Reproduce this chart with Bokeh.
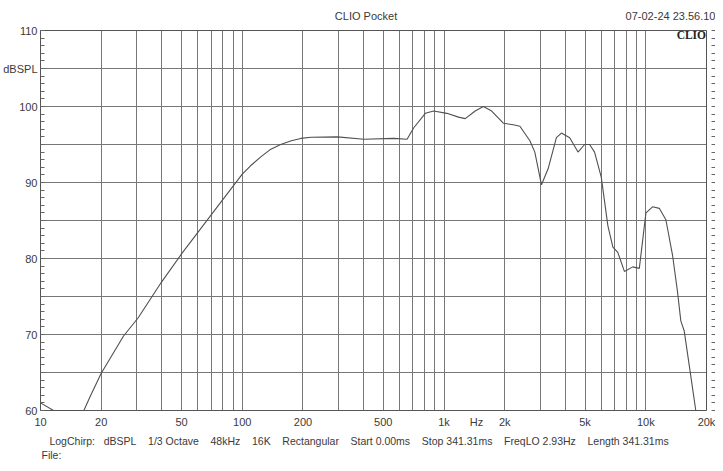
import math
from bokeh.plotting import figure
from bokeh.models import FixedTicker, LinearAxis, LogAxis, Label
from bokeh.embed import file_html
from bokeh.resources import INLINE

# ---- data ----
freq_hz = [10, 11.6, 16.4, 17.6, 20, 25.8, 30.5, 39.8, 50, 70, 100, 110, 124, 137, 155, 175, 195, 220,
           296, 401, 564, 656, 708, 808, 889, 1033, 1180, 1274, 1427, 1568, 1723, 1968, 2204, 2378,
           2665, 2819, 3041, 3281, 3606, 3818, 4198, 4613, 4977, 5270, 5575, 6017, 6491,
           6871, 7267, 7838, 8618, 9290, 10020, 10810, 11670, 12580, 13580, 14370, 14920,
           15500, 16410, 17700, 20000]
spl_db = [61.0, 60.0, 60.0, 61.8, 64.9, 69.8, 72.2, 76.9, 80.6, 85.7, 91.1, 92.2, 93.4, 94.3, 95.0, 95.5, 95.8, 95.95,
          96.0, 95.7, 95.8, 95.7, 97.2, 99.1, 99.4, 99.1, 98.6, 98.4, 99.4, 100.0, 99.4, 97.8, 97.6, 97.4,
          95.5, 94.0, 89.7, 91.8, 95.9, 96.5, 95.9, 94.0, 95.0, 95.0, 94.0, 90.7, 84.3,
          81.5, 80.8, 78.3, 78.9, 78.7, 86.0, 86.8, 86.6, 85.1, 80.4, 75.6, 71.8,
          70.5, 66.0, 60.0, 60.0]

x_tick_values = [10, 20, 50, 100, 200, 500, 1000, 1450, 2000, 5000, 10000, 20000]
x_tick_labels = ["10", "20", "50", "100", "200", "500", "1k", "Hz", "2k", "5k", "10k", "20k"]
y_tick_values = [60, 70, 80, 90, 100, 105, 110]
y_tick_labels = ["60", "70", "80", "90", "100", "dBSPL", "110"]
x_grid = [d * m for d in (10, 100, 1000) for m in range(1, 10)] + [10000]
y_grid = list(range(60, 111, 5))

title_text = "CLIO Pocket"
date_text = "07-02-24 23.56.10"
logo_text = "CLIO"
info_parts = ["LogChirp:", "dBSPL", "1/3 Octave", "48kHz", "16K", "Rectangular",
              "Start 0.00ms", "Stop 341.31ms", "FreqLO 2.93Hz", "Length 341.31ms"]
file_text = "File:"

NB = "\u00a0"
info_text = info_parts[0] + NB * 3 + (NB * 4).join(info_parts[1:])

FONT = "Liberation Sans"
TXT = "#3a3a3a"
W, H = 715, 463

# page-pixel -> frequency, for placing header/footer texts (frame spans page x 45..714)
def fx(px):
    return round(10 * 10 ** ((px - 45) / (714 - 45) * math.log10(2000)), 3)

head_px = [372, 678]        # centres of title and date
info_px = [365, 56]         # centres of the settings line and of "File:"

p = figure(width=W, height=H, x_axis_type="log", x_range=(10, 20000), y_range=(60, 110),
           output_backend="svg", toolbar_location=None,
           min_border_left=37, min_border_right=9, min_border_top=30, min_border_bottom=47)
p.background_fill_color = "white"
p.border_fill_color = "white"
p.outline_line_color = "#555555"
p.outline_line_width = 1

p.xgrid.ticker = FixedTicker(ticks=x_grid)
p.ygrid.ticker = FixedTicker(ticks=y_grid)
for g in (p.xgrid, p.ygrid):
    g.grid_line_color = "#777777"
    g.grid_line_width = 1
    g.grid_line_alpha = 1.0


def bare(ax, size, standoff):
    ax.axis_line_color = None
    ax.major_tick_line_color = None
    ax.minor_tick_line_color = None
    ax.major_tick_out = 0
    ax.major_tick_in = 0
    ax.minor_tick_out = 0
    ax.minor_tick_in = 0
    ax.major_label_standoff = standoff
    ax.major_label_text_font = FONT
    ax.major_label_text_font_size = size
    ax.major_label_text_color = TXT


# bottom frequency axis
xa = p.xaxis[0]
xa.ticker = FixedTicker(ticks=x_tick_values)
xa.major_label_overrides = {v: t for v, t in zip(x_tick_values, x_tick_labels)}
bare(xa, "11px", 5)

# footer (measurement settings + File:) as a second bottom axis
info_ticks = [fx(v) for v in info_px]
ia = LogAxis(ticker=FixedTicker(ticks=info_ticks))
ia.major_label_overrides = {info_ticks[0]: info_text, info_ticks[1]: "\n" + file_text}
bare(ia, "10.5px", 4)
p.add_layout(ia, "below")

# header (title + date) as a top axis
head_ticks = [fx(v) for v in head_px]
ta = LogAxis(ticker=FixedTicker(ticks=head_ticks))
ta.major_label_overrides = {head_ticks[0]: title_text, head_ticks[1]: date_text}
bare(ta, "11px", 9)
p.add_layout(ta, "above")

# left axis
ya = p.yaxis[0]
ya.ticker = FixedTicker(ticks=y_tick_values, minor_ticks=list(range(60, 111)))
ya.major_label_overrides = {v: t for v, t in zip(y_tick_values, y_tick_labels)}
ya.axis_line_color = None
ya.major_tick_in = 4
ya.major_tick_out = 0
ya.minor_tick_in = 4
ya.minor_tick_out = 0
ya.major_tick_line_color = "#666666"
ya.minor_tick_line_color = "#666666"
ya.major_label_standoff = 3
ya.major_label_text_font = FONT
ya.major_label_text_font_size = "11px"
ya.major_label_text_color = TXT

# right axis (small outer ticks only)
ra = LinearAxis(ticker=FixedTicker(ticks=[], minor_ticks=list(range(60, 111))))
ra.axis_line_color = None
ra.minor_tick_in = -5
ra.minor_tick_out = 9
ra.minor_tick_line_color = "#666666"
ra.major_label_text_font_size = "0px"
p.add_layout(ra, "right")

p.line(freq_hz, spl_db, line_color="#505050", line_width=1.1)

# "CLIO" mark in the top right corner of the frame
p.add_layout(Label(x=fx(684), y=109.4, text=logo_text, text_align="left", text_baseline="middle",
                   text_font="Liberation Serif", text_font_style="bold", text_font_size="11.5px",
                   text_color="#222222"))

open("out.html", "w").write(file_html(p, INLINE))
